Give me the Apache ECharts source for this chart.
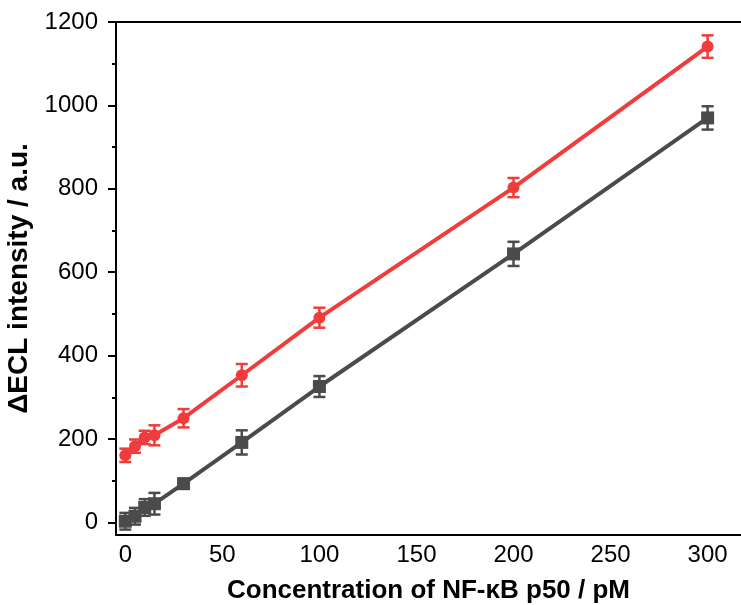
<!DOCTYPE html>
<html>
<head>
<meta charset="utf-8">
<title>ΔECL intensity vs NF-κB p50 concentration</title>
<script src="https://cdn.jsdelivr.net/npm/echarts@6/dist/echarts.min.js"></script>
<style>
  html, body { margin: 0; padding: 0; background: #fff; }
  #chart { width: 741px; height: 605px; }
</style>
</head>
<body>
<div id="chart"></div>
<script>
// NF-κB p50 concentrations (pM)
const concentrations = [0, 5, 10, 15, 30, 60, 100, 200, 300];

// Upper series (red circles): mean ΔECL intensity and error
const redValues = [161, 183, 204, 209, 250, 353, 491, 803, 1141];
const redErrors = [16, 16, 16, 24, 22, 27, 24, 23, 27];

// Lower series (dark grey squares): mean ΔECL intensity and error
const greyValues = [3, 15, 36, 45, 93, 192, 326, 644, 970];
const greyErrors = [20, 20, 20, 26, 12, 29, 25, 29, 28];

// Axis tick values
const xTickValues = [0, 50, 100, 150, 200, 250, 300];
const yMajorTicks = [0, 200, 400, 600, 800, 1000, 1200];
const yMinorTicks = [100, 300, 500, 700, 900, 1100];

const RED = '#F03C3C';
const GREY = '#4B4B4B';
const FONT = "'Liberation Sans', Arial, sans-serif";

const X_MIN = -4.8, X_MAX = 317.2;
const Y_MIN = -30, Y_MAX = 1200;

function pairs(xs, ys) { return xs.map((x, i) => [x, ys[i]]); }
function triples(xs, ys, es) { return xs.map((x, i) => [x, ys[i], es[i]]); }

function errorBars(color) {
  return function (params, api) {
    const x = api.value(0), y = api.value(1), e = api.value(2);
    const top = api.coord([x, y + e]);
    const bot = api.coord([x, y - e]);
    const half = 6;
    const style = { stroke: color, lineWidth: 2.5 };
    return {
      type: 'group',
      children: [
        { type: 'line', shape: { x1: top[0], y1: top[1], x2: bot[0], y2: bot[1] }, style },
        { type: 'line', shape: { x1: top[0] - half, y1: top[1], x2: top[0] + half, y2: top[1] }, style },
        { type: 'line', shape: { x1: bot[0] - half, y1: bot[1], x2: bot[0] + half, y2: bot[1] }, style }
      ]
    };
  };
}

const plain = (v) => String(v);

const chart = echarts.init(document.getElementById('chart'), null, { renderer: 'canvas' });

const baseAxisLine = { show: true, onZero: false, lineStyle: { color: '#000', width: 2 } };

chart.setOption({
  animation: false,
  backgroundColor: '#fff',
  grid: {
    left: 116, top: 22, right: 0, bottom: 70,
    containLabel: false, outerBoundsMode: 'none', show: false
  },
  xAxis: [
    {
      type: 'value', min: X_MIN, max: X_MAX,
      axisLine: baseAxisLine,
      axisTick: { show: false },
      splitLine: { show: false },
      axisLabel: {
        customValues: xTickValues, formatter: plain,
        fontFamily: FONT, fontSize: 24, color: '#000', margin: 8
      },
      name: 'Concentration of NF-κB p50 / pM',
      nameLocation: 'middle', nameGap: 43,
      nameTextStyle: { fontFamily: FONT, fontSize: 26, fontWeight: 'bold', color: '#000' }
    },
    {
      // top frame line
      type: 'value', min: X_MIN, max: X_MAX, position: 'top',
      axisLine: baseAxisLine,
      axisTick: { show: false },
      axisLabel: { show: false },
      splitLine: { show: false }
    }
  ],
  yAxis: [
    {
      type: 'value', min: Y_MIN, max: Y_MAX,
      axisLine: baseAxisLine,
      axisTick: { show: true, inside: false, length: 8, customValues: yMajorTicks, lineStyle: { color: '#000', width: 2 } },
      splitLine: { show: false },
      axisLabel: {
        customValues: yMajorTicks, formatter: plain,
        fontFamily: FONT, fontSize: 24, color: '#000', margin: 18
      },
      name: 'ΔECL intensity / a.u.',
      nameLocation: 'middle', nameGap: 75,
      nameTextStyle: { fontFamily: FONT, fontSize: 28, fontWeight: 'bold', color: '#000' }
    },
    {
      // minor ticks
      type: 'value', min: Y_MIN, max: Y_MAX, position: 'left', offset: 0,
      axisLine: { show: false, onZero: false },
      axisTick: { show: true, inside: false, length: 4, customValues: yMinorTicks, lineStyle: { color: '#000', width: 2 } },
      axisLabel: { show: false },
      splitLine: { show: false }
    }
  ],
  series: [
    {
      type: 'custom', name: 'grey error', renderItem: errorBars(GREY),
      data: triples(concentrations, greyValues, greyErrors),
      encode: { x: 0, y: 1 }, z: 3
    },
    {
      type: 'line', name: 'grey', data: pairs(concentrations, greyValues),
      symbol: 'rect', symbolSize: 13,
      itemStyle: { color: GREY }, lineStyle: { color: GREY, width: 4 }, z: 2
    },
    {
      type: 'custom', name: 'red error', renderItem: errorBars(RED),
      data: triples(concentrations, redValues, redErrors),
      encode: { x: 0, y: 1 }, z: 3
    },
    {
      type: 'line', name: 'red', data: pairs(concentrations, redValues),
      symbol: 'circle', symbolSize: 12,
      itemStyle: { color: RED }, lineStyle: { color: RED, width: 4 }, z: 2
    }
  ]
});
</script>
</body>
</html>
